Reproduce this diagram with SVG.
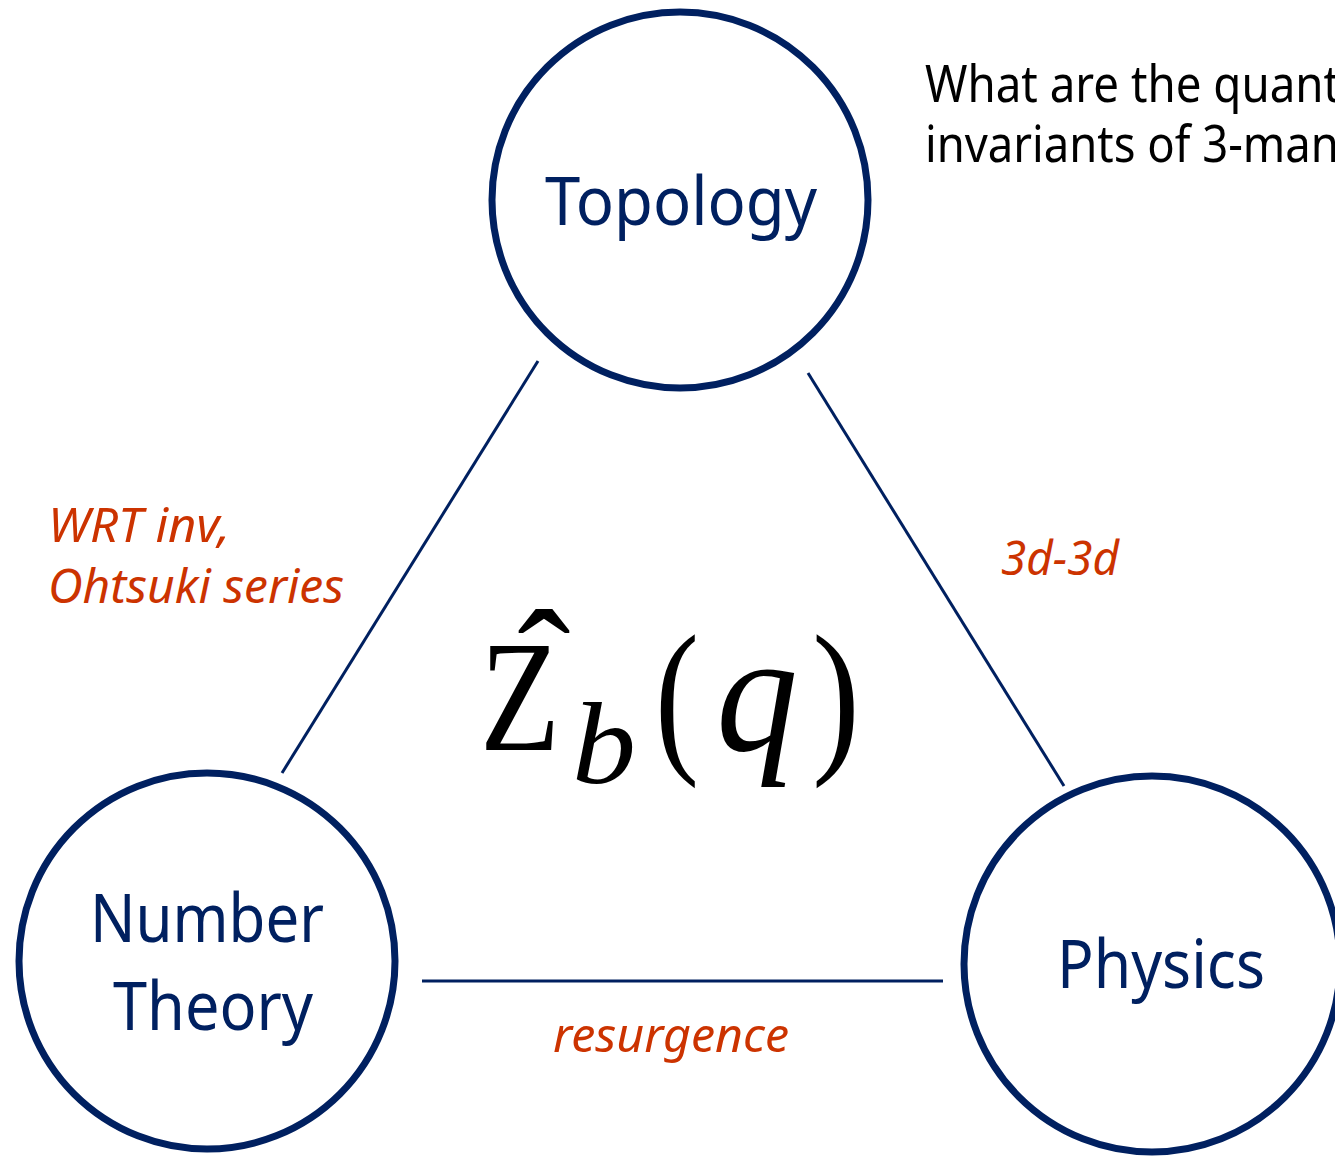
<svg xmlns="http://www.w3.org/2000/svg" width="1335" height="1157" viewBox="0 0 1335 1157">
<style>
.node{fill:#ffffff;stroke:#002060;stroke-width:7}
.conn{stroke:#002060;stroke-width:3;fill:none}
.lbl{font-family:"Noto Sans","Open Sans","Liberation Sans",sans-serif;fill:#002060;font-size:67px}
.edge{font-family:"Noto Sans","Open Sans","Liberation Sans",sans-serif;font-style:italic;fill:#CC3300;font-size:48px}
.note{font-family:"Noto Sans","Open Sans","Liberation Sans",sans-serif;fill:#000000;font-size:51px}
.math{font-family:"Liberation Serif","DejaVu Serif",serif;fill:#000000}
</style>
<rect width="1335" height="1157" fill="#ffffff"/>
<g id="connectors">
<line class="conn" x1="538" y1="361" x2="282" y2="773"/>
<line class="conn" x1="808" y1="373" x2="1064" y2="786"/>
<line class="conn" x1="422" y1="981" x2="943" y2="981"/>
</g>
<g id="topology">
<circle class="node" cx="680" cy="200" r="188"/>
<text class="lbl" x="545" y="225" textLength="272" lengthAdjust="spacingAndGlyphs">Topology</text>
</g>
<g id="number-theory">
<circle class="node" cx="207" cy="961" r="188"/>
<text class="lbl" x="90" y="942" textLength="234" lengthAdjust="spacingAndGlyphs">Number</text>
<text class="lbl" x="113" y="1030" textLength="200" lengthAdjust="spacingAndGlyphs">Theory</text>
</g>
<g id="physics">
<circle class="node" cx="1152" cy="964" r="188"/>
<text class="lbl" x="1057" y="988" textLength="208" lengthAdjust="spacingAndGlyphs">Physics</text>
</g>
<g id="edge-labels">
<text class="edge" x="48" y="542" textLength="182" lengthAdjust="spacingAndGlyphs">WRT inv,</text>
<text class="edge" x="48" y="603" textLength="296" lengthAdjust="spacingAndGlyphs">Ohtsuki series</text>
<text class="edge" x="1001" y="575" textLength="118" lengthAdjust="spacingAndGlyphs">3d-3d</text>
<text class="edge" x="553" y="1052" textLength="236" lengthAdjust="spacingAndGlyphs">resurgence</text>
</g>
<g id="question">
<text class="note" x="925" y="102" textLength="486" lengthAdjust="spacingAndGlyphs">What are the quantum</text>
<text class="note" x="925" y="162" textLength="530" lengthAdjust="spacingAndGlyphs">invariants of 3-manifolds</text>
</g>
<g id="formula">
<text class="math" x="480" y="750" font-size="158" textLength="80" lengthAdjust="spacingAndGlyphs">Z</text>
<text class="math" x="544" y="721" font-size="160" text-anchor="middle">ˆ</text>
<text class="math" x="572" y="783" font-size="116" font-style="italic" textLength="64" lengthAdjust="spacingAndGlyphs">b</text>
<text class="math" x="655" y="752" font-size="170" textLength="44" lengthAdjust="spacingAndGlyphs">(</text>
<text class="math" x="716" y="750" font-size="172" font-style="italic" textLength="82" lengthAdjust="spacingAndGlyphs">q</text>
<text class="math" x="812" y="752" font-size="170" textLength="48" lengthAdjust="spacingAndGlyphs">)</text>
</g>
</svg>
